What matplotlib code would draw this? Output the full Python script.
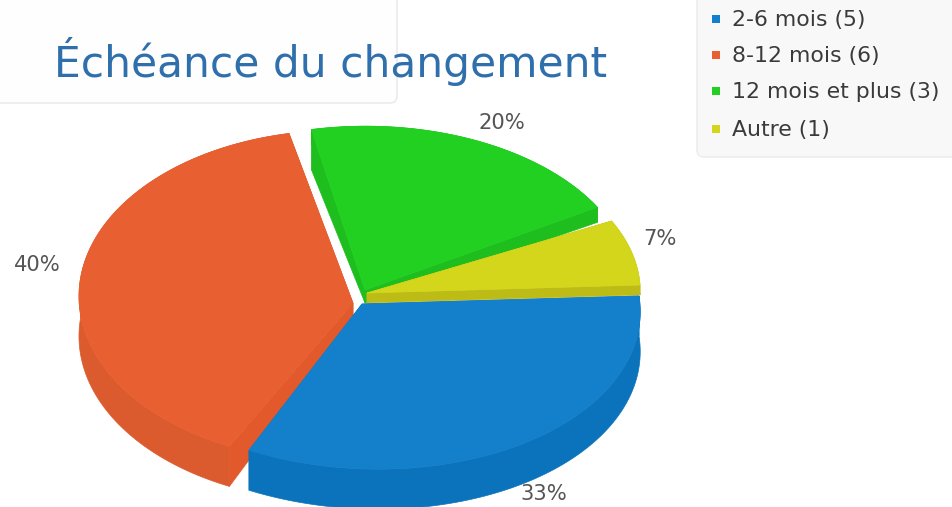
import numpy as np
import matplotlib
matplotlib.use('Agg')
import matplotlib.pyplot as plt
from matplotlib.patches import Polygon, FancyBboxPatch

WIDTH, HEIGHT = 953, 507

categories = ['2-6 mois', '8-12 mois', '12 mois et plus', 'Autre']
counts = [5, 6, 3, 1]

top_colors = ['#1480CB', '#E86031', '#22D022', '#D4D61C']
side_colors = ['#0B72BC', '#DB5A2E', '#1DBE1D', '#BDBC16']
face_colors = ['#0B72BC', '#E2592B', '#1DBE1D', '#BDBC16']

# slice geometry in pixels: arc centre, tip, radii, tilt
centers = [(364, 303), (339, 296), (365, 287), (367, 293)]
tips = [(362, 304), (353, 303), (365, 290), (367, 293)]
radii = [(275, 166), (259, 165), (266, 160), (273, 159)]
shear_x = [26, 23, 26, 12]
shear_y = [-7, -15, -16, -8]
depth_start = [40, 40, 40, 10]
depth_end = [40, 0, 15, 10]
depth_tip = [0, 17, 13, 10]

label_pos = [(544, 494), (37, 265), (502, 123), (660, 239)]
legend_baselines = [26, 62, 98, 136]


def arc(i, t0, t1, n=120):
    t = np.radians(np.linspace(t0, t1, n))
    cx, cy = centers[i]
    rx, ry = radii[i]
    x = cx + rx * np.cos(t) + shear_x[i] * np.sin(t)
    y = cy + ry * np.sin(t) + shear_y[i] * np.cos(t)
    return np.column_stack([x, y])


def draw_slice(ax, i, t0, t1):
    pts = arc(i, t0, t1)
    tip = np.array(tips[i], dtype=float)
    d_wall = np.array([0, depth_end[i] or depth_start[i]])
    d_tip = np.array([0, depth_tip[i]])

    # outer wall
    wall = np.vstack([pts, (pts + d_wall)[::-1]])
    ax.add_patch(Polygon(wall, closed=True, fc=side_colors[i], ec=side_colors[i], lw=0.5))

    # straight cut faces
    for corner, depth in ((pts[0], depth_start[i]), (pts[-1], depth_end[i])):
        d = np.array([0, depth])
        face = np.array([corner, corner + d, tip + d_tip, tip])
        ax.add_patch(Polygon(face, closed=True, fc=face_colors[i], ec=face_colors[i], lw=0.5))

    top = np.vstack([tip, pts])
    ax.add_patch(Polygon(top, closed=True, fc=top_colors[i], ec=top_colors[i], lw=0.5))


fig = plt.figure(figsize=(WIDTH / 100, HEIGHT / 100), dpi=100)
ax = fig.add_axes([0, 0, 1, 1])
ax.set_xlim(0, WIDTH)
ax.set_ylim(HEIGHT, 0)
ax.axis('off')

# title and legend cards
ax.add_patch(FancyBboxPatch((-40, -40), 437, 143, boxstyle='round,pad=0,rounding_size=7',
                            fc='#FEFEFE', ec='#EBEBEB', lw=1.2))
ax.add_patch(FancyBboxPatch((697, -40), 300, 197, boxstyle='round,pad=0,rounding_size=7',
                            fc='#F8F8F8', ec='#EDEDED', lw=1.2))

ax.text(54, 77, 'Échéance du changement', color='#2E6FAC', fontsize=30.5,
        family='DejaVu Sans', ha='left', va='baseline')

total = sum(counts)
bounds = np.cumsum([0] + counts) / total * 360

for i in [2, 3, 1, 0]:
    draw_slice(ax, i, bounds[i], bounds[i + 1])

for i, c in enumerate(counts):
    x, y = label_pos[i]
    ax.text(x, y, f'{round(100 * c / total)}%', color='#555555', fontsize=15.2,
            ha='center', va='center')

for i, (name, c) in enumerate(zip(categories, counts)):
    y = legend_baselines[i]
    ax.scatter([716], [y - 7], marker='s', s=38, color=top_colors[i], linewidths=0, zorder=3)
    ax.text(732, y, f'{name} ({c})', color='#3A3A3A', fontsize=15.8, ha='left', va='baseline')

fig.savefig('out.png', dpi=100)
